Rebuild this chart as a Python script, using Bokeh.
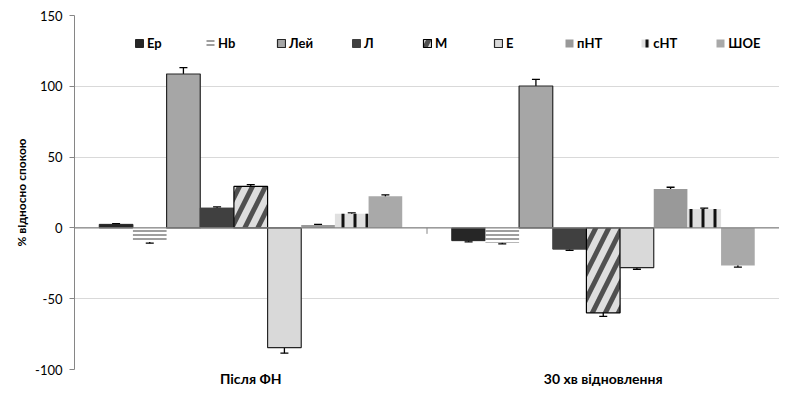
from bokeh.plotting import figure
from bokeh.models import ColumnDataSource, Whisker, Span, Range1d, FactorRange, Legend, FixedTicker
from bokeh.transform import dodge
from bokeh.embed import file_html
from bokeh.resources import INLINE

groups = ["Після ФН", "30 хв відновлення"]
series = ["Ер", "Hb", "Лей", "Л", "М", "Е", "пНТ", "сНТ", "ШОЕ"]
vals_after = [2.5, -10.0, 108.7, 14.0, 29.3, -84.5, 2.0, 10.0, 22.3]
vals_recov = [-9.0, -10.5, 100.2, -15.0, -60.0, -28.0, 27.5, 13.4, -26.5]
err_after = [0.5, 0.8, 4.5, 0.8, 1.3, 4.0, 0.5, 0.6, 1.0]
err_recov = [0.8, 0.8, 4.7, 0.8, 2.5, 1.2, 1.2, 0.5, 1.2]
y_ticks = [-100, -50, 0, 50, 100, 150]
y_tick_labels = ["-100", "-50", "0", "50", "100", "150"]

styles = [
    dict(fill_color="#262626", line_color="#262626"),
    dict(fill_color="white", line_color=None, hatch_pattern="horizontal_line", hatch_color="#7f7f7f", hatch_scale=4, hatch_weight=1.5),
    dict(fill_color="#a6a6a6", line_color="#262626", line_width=1.2),
    dict(fill_color="#404040", line_color="#404040"),
    dict(fill_color="#dedede", line_color="#000000", line_width=1.2, hatch_pattern="right_diagonal_line", hatch_color="#505050", hatch_scale=26, hatch_weight=5),
    dict(fill_color="#d9d9d9", line_color="#262626", line_width=1.2),
    dict(fill_color="#999999", line_color=None),
    dict(fill_color="#e0e0e0", line_color=None, hatch_pattern="vertical_line", hatch_color="#111111", hatch_scale=12, hatch_weight=3),
    dict(fill_color="#a9a9a9", line_color=None),
]

p = figure(width=779, height=389, x_range=FactorRange(*groups), y_range=Range1d(-100, 150),
           output_backend="svg", toolbar_location=None,
           min_border_left=74, min_border_right=0, min_border_top=15, min_border_bottom=18)
p.outline_line_color = None
p.background_fill_color = "white"
p.xgrid.grid_line_color = None
p.ygrid.grid_line_color = "#d9d9d9"
p.ygrid.grid_line_width = 1
p.yaxis.ticker = FixedTicker(ticks=y_ticks)
p.yaxis.major_label_overrides = {t: s for t, s in zip(y_ticks, y_tick_labels)}
p.yaxis.axis_line_color = "#868686"
p.yaxis.major_tick_line_color = "#868686"
p.yaxis.major_tick_out = 5
p.yaxis.major_tick_in = 0
p.yaxis.minor_tick_line_color = None
p.yaxis.major_label_text_font = "Lato"
p.yaxis.major_label_text_font_size = "13px"
p.yaxis.major_label_text_color = "#000000"
p.yaxis.major_label_standoff = 7
p.yaxis.axis_label = "% відносно спокою"
p.yaxis.axis_label_text_font = "Lato"
p.yaxis.axis_label_text_font_style = "bold"
p.yaxis.axis_label_text_font_size = "12px"
p.yaxis.axis_label_text_color = "#000000"
p.yaxis.axis_label_standoff = 3

p.xaxis.axis_line_color = None
p.xaxis.major_tick_line_color = None
p.xaxis.minor_tick_line_color = None
p.xaxis.major_tick_out = 0
p.xaxis.major_tick_in = 0
p.xaxis.axis_label_standoff = 0
p.xaxis.major_label_text_font = "Lato"
p.xaxis.major_label_text_font_style = "bold"
p.xaxis.major_label_text_font_size = "14px"
p.xaxis.major_label_text_color = "#000000"
p.xaxis.major_label_standoff = 0

bw = 0.0955
items = []
for i, name in enumerate(series):
    off = (i - 4) * bw
    v = [vals_after[i], vals_recov[i]]
    e = [err_after[i], err_recov[i]]
    src = ColumnDataSource(dict(group=groups, value=v,
                                upper=[a + b for a, b in zip(v, e)],
                                lower=[a - b for a, b in zip(v, e)]))
    r = p.vbar(x=dodge("group", off, range=p.x_range), top="value", bottom=0, width=bw, source=src, **styles[i])
    items.append((name, [r]))
    w = Whisker(source=src, base=dodge("group", off, range=p.x_range), upper="upper", lower="lower",
                line_color="black", line_width=1.3)
    w.upper_head.size = 8
    w.lower_head.size = 8
    w.upper_head.line_color = "black"
    w.lower_head.line_color = "black"
    w.upper_head.line_width = 1.3
    w.lower_head.line_width = 1.3
    p.add_layout(w)

p.add_layout(Span(location=0, dimension="width", line_color="#868686", line_width=1.2))

separators = ["30 хв відновлення"]
p.segment(x0=dodge("g", -0.5, range=p.x_range), x1=dodge("g", -0.5, range=p.x_range), y0="y0", y1="y1",
          source=ColumnDataSource(dict(g=separators, y0=[0], y1=[-4.2])), line_color="#868686", line_width=1)

legend = Legend(items=items, orientation="horizontal", location=(60, 318))
legend.label_text_font = "Lato"
legend.label_text_font_style = "bold"
legend.label_text_font_size = "13px"
legend.label_text_color = "#000000"
legend.label_standoff = 3
legend.glyph_width = 10
legend.glyph_height = 10
legend.label_height = 12
legend.spacing = 38
legend.padding = 0
legend.margin = 0
legend.border_line_color = None
legend.background_fill_alpha = 0
p.add_layout(legend, "center")

open("out.html", "w").write(file_html(p, INLINE))
